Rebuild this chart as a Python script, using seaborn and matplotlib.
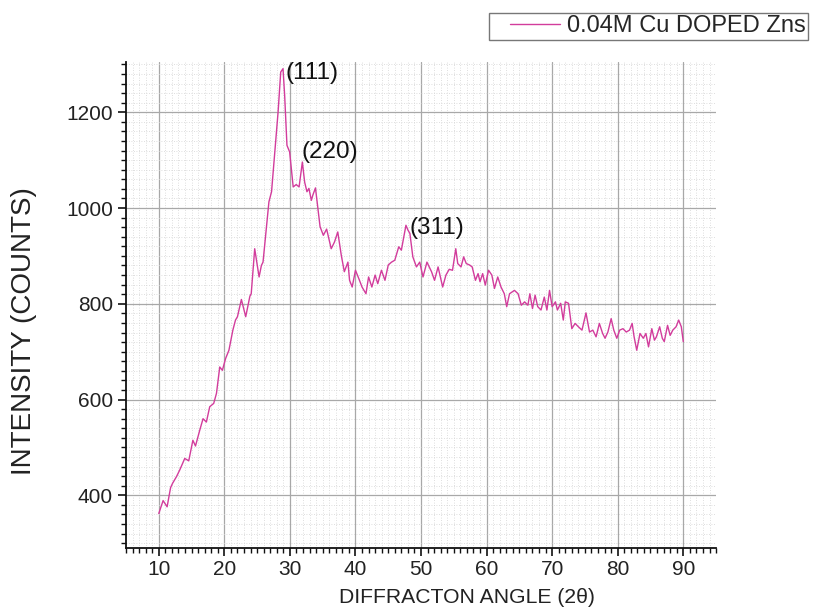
import numpy as np
import pandas as pd
import matplotlib
matplotlib.use("Agg")
import matplotlib.pyplot as plt
from matplotlib.ticker import MultipleLocator
from matplotlib.legend_handler import HandlerLine2D
from matplotlib.lines import Line2D
import seaborn as sns

two_theta = [10.0, 10.66, 11.27, 11.8, 12.1, 12.7, 13.2, 13.96, 14.57, 15.2, 15.6, 16.25, 16.75,
             17.26, 17.77, 18.38, 18.8, 19.3, 19.7, 20.2, 20.7, 21.3, 21.7, 22.0, 22.6, 23.26,
             23.9, 24.1, 24.63, 25.3, 25.65, 25.9, 26.4, 26.8, 27.2, 27.7, 28.2, 28.6, 28.95,
             29.2, 29.55, 29.96, 30.5, 30.96, 31.4, 31.9, 32.25, 32.6, 32.9, 33.27, 33.5, 33.9,
             34.6, 35.1, 35.6, 36.3, 36.8, 37.3, 37.84, 38.3, 38.85, 39.1, 39.5, 40.0, 40.5,
             41.0, 41.6, 42.0, 42.5, 43.0, 43.4, 43.96, 44.5, 45.0, 45.5, 46.0, 46.6, 47.0,
             47.7, 48.0, 48.3, 48.75, 49.3, 49.8, 50.3, 50.9, 51.6, 52.06, 52.6, 53.3, 53.8,
             54.3, 54.8, 55.3, 55.6, 56.1, 56.5, 56.9, 57.4, 57.8, 58.3, 58.7, 59.0, 59.4,
             59.8, 60.3, 60.8, 61.2, 61.7, 62.2, 62.7, 63.07, 63.5, 64.25, 64.8, 65.3, 65.8,
             66.3, 66.6, 67.0, 67.4, 67.8, 68.3, 68.8, 69.2, 69.6, 70.0, 70.5, 70.8, 71.3,
             71.7, 72.0, 72.5, 73.0, 73.5, 74.0, 74.55, 75.16, 75.7, 76.2, 76.7, 77.2, 77.7,
             78.07, 78.5, 79.0, 79.4, 79.86, 80.3, 80.8, 81.3, 81.8, 82.2, 82.5, 82.9, 83.4,
             83.9, 84.3, 84.7, 85.2, 85.6, 85.9, 86.4, 86.8, 87.1, 87.6, 88.0, 88.4, 88.9,
             89.3, 89.7, 90.0]

intensity = [362, 389, 376, 416, 425, 439, 453, 477, 472, 515, 503, 536, 560,
             553, 585, 592, 613, 668, 661, 686, 703, 745, 766, 773, 809, 773,
             816, 821, 915, 856, 880, 887, 957, 1013, 1034, 1117, 1201, 1284, 1291,
             1235, 1131, 1117, 1044, 1049, 1044, 1096, 1054, 1034, 1041, 1016, 1027, 1042,
             961, 943, 956, 915, 929, 950, 901, 867, 887, 849, 835, 870, 853,
             835, 821, 856, 835, 860, 842, 870, 849, 881, 887, 891, 919, 912,
             964, 954, 947, 898, 877, 887, 856, 887, 867, 849, 877, 835, 860,
             872, 870, 915, 884, 877, 898, 884, 881, 877, 849, 863, 846, 863,
             839, 870, 860, 832, 856, 835, 821, 794, 821, 828, 821, 797, 804,
             797, 821, 790, 818, 794, 787, 814, 787, 828, 794, 804, 787, 801,
             766, 804, 801, 748, 759, 752, 745, 781, 741, 745, 731, 759, 738,
             728, 741, 769, 745, 728, 745, 748, 741, 745, 759, 731, 703, 738,
             728, 738, 710, 748, 724, 731, 752, 728, 721, 755, 734, 745, 752,
             766, 752, 721]

series_name = "0.04M Cu DOPED Zns"
peak_labels = ["(111)", "(220)", "(311)"]
peak_x = [29.4, 31.8, 48.2]
peak_y = [1281, 1116, 958]

df = pd.DataFrame({"x": two_theta, "y": intensity})

sns.set_style("white")
plt.rcParams["font.family"] = ["Liberation Sans", "DejaVu Sans"]

fig = plt.figure(figsize=(8.15, 6.16), dpi=100)
ax = fig.add_axes([0.1546, 0.1104, 0.724, 0.789])

line_color = "#d23c9c"
sns.lineplot(data=df, x="x", y="y", ax=ax, color=line_color, linewidth=1.0,
             estimator=None, sort=False, legend=False)

ax.set_xlim(5, 95)
ax.set_ylim(290, 1305)
ax.xaxis.set_minor_locator(MultipleLocator(1))
ax.yaxis.set_minor_locator(MultipleLocator(20))
ax.set_xticks(range(10, 91, 10))
ax.set_yticks(range(400, 1201, 200))

ax.grid(True, which="major", color="#a8a8a8", linewidth=0.9, linestyle="-")
ax.grid(True, which="minor", color="#d4d4d4", linewidth=0.6, linestyle=(0, (1, 2)))
ax.set_axisbelow(True)

for s in ["top", "right"]:
    ax.spines[s].set_visible(False)
for s in ["left", "bottom"]:
    ax.spines[s].set_color("#111111")
    ax.spines[s].set_linewidth(1.3)

ax.tick_params(which="major", direction="out", length=6, width=1.2, color="#111111",
               labelsize=15, labelcolor="#222222", left=True, bottom=True)
ax.tick_params(axis="x", which="major", pad=3)
ax.tick_params(which="minor", direction="out", length=3.5, width=1.0, color="#111111",
               left=True, bottom=True)

ax.set_xlabel("DIFFRACTON ANGLE (2θ)", fontsize=15.2, color="#222222", labelpad=6)
ax.xaxis.label.set_x(0.578)
ax.set_ylabel("INTENSITY (COUNTS)", fontsize=20, color="#222222", labelpad=21)
ax.yaxis.label.set_y(0.447)

for lab, px, py in zip(peak_labels, peak_x, peak_y):
    ax.text(px, py, lab, fontsize=17.5, color="#111111", ha="left", va="center")

leg_fs = 17
handle = Line2D([], [], color=line_color, linewidth=1.0)
leg = fig.legend([handle], [series_name], loc="upper left",
                 bbox_to_anchor=(489 / 815, 1 - 13 / 616),
                 fontsize=leg_fs, frameon=True, fancybox=False, shadow=False,
                 handlelength=3.69, borderpad=0.1, handletextpad=-0.5, borderaxespad=0,
                 handler_map={Line2D: HandlerLine2D(numpoints=2, marker_pad=0.79)})
leg.get_frame().set_edgecolor("#555555")
leg.get_frame().set_linewidth(1.0)

fig.savefig("out.png", dpi=100)
